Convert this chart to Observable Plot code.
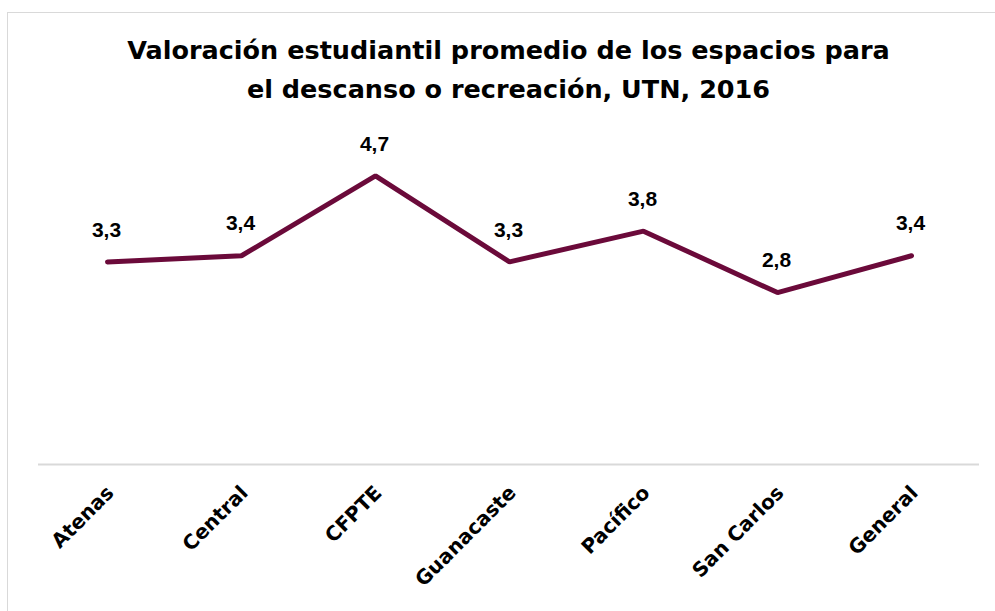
<!DOCTYPE html>
<html>
<head>
<meta charset="utf-8">
<script src="https://cdn.jsdelivr.net/npm/d3@7"></script>
<script src="https://cdn.jsdelivr.net/npm/@observablehq/plot@0.6"></script>
<style>
  html, body { margin: 0; padding: 0; background: #fff; }
  #wrap { position: relative; width: 995px; height: 611px; overflow: hidden; }
  #frame { position: absolute; left: 7px; top: 12px; width: 1100px; height: 700px; border: 1.5px solid #d9d9d9; box-sizing: border-box; }
  #title { position: relative; height: 130px; box-sizing: border-box; padding-top: 31px; text-align: center;
    font-family: "DejaVu Sans", sans-serif; font-weight: bold; font-size: 25.5px; line-height: 39px; color: #000; padding-left: 22px; }
  #chart { position: relative; }
</style>
</head>
<body>
<div id="wrap">
  <div id="frame"></div>
  <div id="title">Valoración estudiantil promedio de los espacios para<br>el descanso o recreación, UTN, 2016</div>
  <div id="chart"></div>
</div>
<script>
const categories = ["Atenas", "Central", "CFPTE", "Guanacaste", "Pacífico", "San Carlos", "General"];
const values = [3.3, 3.4, 4.7, 3.3, 3.8, 2.8, 3.4];
const valueLabels = ["3,3", "3,4", "4,7", "3,3", "3,8", "2,8", "3,4"];

const data = categories.map((c, i) => ({ cat: c, value: values[i], label: valueLabels[i] }));
const lineColor = "#6b0a3a";

const plot = Plot.plot({
  width: 995,
  height: 481,
  marginLeft: 38,
  marginRight: 16,
  marginTop: 27,
  marginBottom: 147,
  x: { type: "point", domain: categories, padding: 0.5, axis: null },
  y: { domain: [0, 5], axis: null },
  style: { background: "transparent", overflow: "visible" },
  marks: [
    Plot.ruleY([0], { stroke: "#d9d9d9", strokeWidth: 2 }),
    Plot.axisX({
      domain: categories,
      tickSize: 0,
      tickPadding: 0,
      tickRotate: -45,
      dx: 3,
      dy: 25,
      fontSize: 20,
      fontWeight: "bold",
      fontFamily: "DejaVu Sans, sans-serif",
      fill: "#000",
      label: null
    }),
    Plot.line(data, { x: "cat", y: "value", stroke: lineColor, strokeWidth: 5, strokeLinejoin: "miter", strokeLinecap: "round" }),
    Plot.text(data, { x: "cat", y: "value", text: "label", dy: -32, dx: -1, fontSize: 21, fontWeight: "bold", fontFamily: "Liberation Sans, Arial, sans-serif", fill: "#000" })
  ]
});
document.getElementById("chart").appendChild(plot);
</script>
</body>
</html>
